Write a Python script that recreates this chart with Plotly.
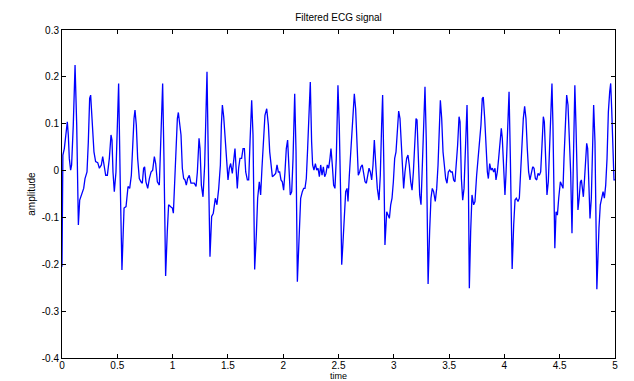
import plotly.graph_objects as go

# Time (s) and amplitude values
time = [
    0.000, 0.008, 0.021, 0.036, 0.048, 0.057, 0.066, 0.078, 0.087, 0.102, 0.118, 0.133, 0.148, 0.160, 0.178, 0.196,
    0.208, 0.226, 0.238, 0.250, 0.259, 0.274, 0.289, 0.304, 0.323, 0.338, 0.356, 0.368, 0.380, 0.395, 0.410, 0.428,
    0.443, 0.452, 0.461, 0.473, 0.488, 0.500, 0.512, 0.527, 0.542, 0.561, 0.579, 0.597, 0.612, 0.627, 0.639, 0.651,
    0.660, 0.672, 0.684, 0.699, 0.714, 0.726, 0.738, 0.747, 0.759, 0.775, 0.790, 0.805, 0.820, 0.835, 0.847, 0.862,
    0.880, 0.895, 0.910, 0.922, 0.937, 0.952, 0.964, 0.983, 0.998, 1.007, 1.019, 1.031, 1.043, 1.052, 1.064, 1.076,
    1.088, 1.100, 1.112, 1.124, 1.136, 1.151, 1.166, 1.181, 1.196, 1.212, 1.224, 1.239, 1.248, 1.260, 1.275, 1.290,
    1.299, 1.311, 1.323, 1.338, 1.353, 1.368, 1.386, 1.401, 1.417, 1.432, 1.441, 1.450, 1.462, 1.474, 1.486, 1.501,
    1.513, 1.525, 1.540, 1.552, 1.564, 1.576, 1.585, 1.597, 1.609, 1.624, 1.637, 1.649, 1.661, 1.676, 1.688, 1.700,
    1.715, 1.727, 1.742, 1.757, 1.769, 1.784, 1.796, 1.808, 1.820, 1.835, 1.851, 1.866, 1.878, 1.890, 1.902, 1.917,
    1.932, 1.944, 1.956, 1.968, 1.980, 1.992, 2.004, 2.016, 2.028, 2.040, 2.052, 2.064, 2.077, 2.089, 2.104, 2.116,
    2.128, 2.146, 2.158, 2.173, 2.185, 2.197, 2.209, 2.221, 2.233, 2.245, 2.257, 2.266, 2.278, 2.291, 2.303, 2.315,
    2.327, 2.339, 2.351, 2.363, 2.375, 2.387, 2.399, 2.411, 2.423, 2.432, 2.444, 2.456, 2.468, 2.480, 2.495, 2.507,
    2.520, 2.529, 2.541, 2.553, 2.565, 2.577, 2.586, 2.598, 2.610, 2.622, 2.634, 2.643, 2.655, 2.667, 2.679, 2.691,
    2.703, 2.715, 2.728, 2.740, 2.752, 2.764, 2.776, 2.788, 2.800, 2.812, 2.824, 2.839, 2.851, 2.866, 2.878, 2.890,
    2.899, 2.911, 2.920, 2.936, 2.948, 2.960, 2.972, 2.984, 2.996, 3.008, 3.020, 3.032, 3.044, 3.056, 3.068, 3.080,
    3.089, 3.101, 3.116, 3.128, 3.140, 3.153, 3.165, 3.177, 3.189, 3.201, 3.210, 3.222, 3.234, 3.246, 3.258, 3.273,
    3.282, 3.294, 3.303, 3.310, 3.324, 3.336, 3.348, 3.360, 3.375, 3.388, 3.400, 3.409, 3.421, 3.433, 3.445, 3.457,
    3.469, 3.481, 3.493, 3.505, 3.517, 3.529, 3.541, 3.553, 3.565, 3.577, 3.590, 3.599, 3.611, 3.623, 3.635, 3.650,
    3.662, 3.674, 3.683, 3.695, 3.707, 3.722, 3.734, 3.749, 3.764, 3.776, 3.788, 3.800, 3.809, 3.822, 3.834, 3.846,
    3.855, 3.867, 3.879, 3.891, 3.903, 3.915, 3.924, 3.936, 3.948, 3.960, 3.972, 3.981, 3.993, 4.005, 4.014, 4.027,
    4.042, 4.054, 4.063, 4.070, 4.084, 4.096, 4.108, 4.123, 4.135, 4.147, 4.159, 4.171, 4.183, 4.195, 4.207, 4.219,
    4.231, 4.244, 4.256, 4.268, 4.280, 4.292, 4.304, 4.316, 4.328, 4.340, 4.352, 4.361, 4.373, 4.385, 4.397, 4.409,
    4.421, 4.430, 4.439, 4.448, 4.456, 4.467, 4.479, 4.491, 4.506, 4.518, 4.530, 4.539, 4.551, 4.563, 4.575, 4.587,
    4.599, 4.611, 4.623, 4.637, 4.647, 4.656, 4.665, 4.676, 4.687, 4.696, 4.705, 4.714, 4.723, 4.735, 4.744, 4.753,
    4.762, 4.774, 4.786, 4.798, 4.807, 4.819, 4.828, 4.836, 4.855, 4.867, 4.880, 4.892, 4.904, 4.916, 4.928, 4.940,
    4.952, 4.961, 4.970, 4.982, 4.991, 5.000,
]
amplitude = [
    -0.205, 0.033, 0.047, 0.076, 0.104, 0.076, 0.026, 0.001, 0.012, 0.097, 0.225, 0.097, -0.116, -0.063, -0.052, -0.038,
    -0.017, -0.003, 0.061, 0.154, 0.161, 0.104, 0.040, 0.019, 0.017, 0.005, 0.012, 0.030, 0.012, -0.010, -0.010, 0.026,
    0.076, 0.065, -0.003, -0.045, -0.003, 0.076, 0.186, -0.031, -0.212, -0.080, -0.077, -0.034, -0.038, -0.010, 0.061, 0.111,
    0.129, 0.097, 0.026, -0.017, -0.024, -0.027, 0.005, 0.008, -0.024, -0.038, -0.017, -0.003, 0.001, 0.030, 0.015, -0.024,
    -0.031, 0.061, 0.186, 0.026, -0.225, -0.130, -0.073, -0.077, -0.080, -0.091, -0.031, 0.061, 0.111, 0.124, 0.104, 0.076,
    0.005, -0.017, -0.020, -0.031, -0.017, -0.010, -0.027, -0.027, -0.027, -0.034, -0.003, 0.069, 0.047, -0.031, -0.056, 0.012,
    0.125, 0.211, 0.026, -0.184, -0.098, -0.091, -0.059, -0.073, -0.038, 0.012, 0.097, 0.140, 0.115, 0.076, 0.026, -0.020,
    0.005, 0.015, -0.006, 0.026, 0.047, -0.003, -0.038, 0.005, 0.026, 0.026, 0.047, 0.047, -0.003, -0.020, -0.020, 0.061,
    0.150, 0.076, -0.211, -0.137, -0.059, -0.024, -0.052, 0.005, 0.061, 0.118, 0.132, 0.097, 0.040, 0.005, -0.013, -0.010,
    -0.006, 0.012, -0.003, -0.003, -0.020, -0.024, -0.042, -0.003, 0.047, 0.065, 0.005, -0.052, -0.045, 0.026, 0.164, 0.040,
    -0.237, -0.116, -0.059, -0.045, -0.038, -0.038, -0.017, 0.047, 0.125, 0.189, 0.061, 0.012, 0.001, 0.015, 0.001, 0.005,
    -0.013, 0.012, -0.010, 0.008, -0.013, -0.006, 0.012, 0.005, 0.026, 0.047, 0.012, -0.031, -0.038, 0.026, 0.182, 0.097,
    -0.059, -0.201, -0.152, -0.102, -0.045, -0.038, -0.066, -0.010, 0.040, 0.097, 0.154, 0.164, 0.132, 0.047, -0.010, -0.003,
    0.008, 0.012, -0.010, -0.024, -0.027, -0.010, 0.005, -0.003, -0.020, 0.012, 0.065, 0.005, -0.038, -0.063, -0.010, 0.097,
    0.161, -0.003, -0.159, -0.088, -0.095, -0.102, -0.073, -0.059, -0.024, 0.026, 0.040, 0.097, 0.127, 0.111, 0.047, -0.017,
    -0.038, -0.003, 0.026, 0.033, 0.012, -0.024, -0.042, -0.003, 0.061, 0.111, 0.108, 0.026, -0.052, -0.073, 0.012, 0.154,
    0.179, 0.061, -0.116, -0.242, -0.130, -0.059, -0.038, -0.045, -0.066, -0.038, 0.012, 0.097, 0.150, 0.111, 0.040, 0.012,
    -0.017, -0.027, -0.003, 0.001, -0.003, -0.003, -0.020, -0.024, 0.012, 0.054, 0.115, 0.104, -0.017, -0.063, -0.038, 0.069,
    0.140, -0.010, -0.251, -0.130, -0.052, -0.073, -0.066, -0.010, 0.026, 0.061, 0.097, 0.154, 0.157, 0.111, 0.040, -0.003,
    -0.017, 0.015, 0.001, 0.005, -0.003, 0.005, -0.020, -0.003, 0.026, 0.061, 0.090, 0.069, -0.003, -0.052, -0.010, 0.097,
    0.168, 0.026, -0.130, -0.210, -0.116, -0.063, -0.059, -0.066, -0.059, -0.003, 0.061, 0.111, 0.137, 0.111, 0.047, -0.003,
    -0.020, -0.003, 0.008, 0.005, -0.017, -0.020, -0.006, -0.010, -0.003, 0.054, 0.115, 0.104, 0.012, -0.052, -0.024, 0.061,
    0.168, 0.186, 0.097, -0.116, -0.166, -0.088, -0.095, -0.059, -0.024, -0.031, -0.038, 0.026, 0.111, 0.161, 0.140, 0.076,
    -0.003, -0.134, 0.040, 0.182, 0.097, -0.045, -0.084, -0.059, -0.024, -0.020, -0.045, -0.056, -0.024, 0.026, 0.058, 0.047,
    -0.031, -0.102, -0.059, 0.061, 0.140, 0.061, -0.116, -0.253, -0.123, -0.073, -0.059, -0.045, -0.059, -0.031, 0.026, 0.125,
    0.168, 0.186, 0.132, 0.005, -0.020, -0.020,
]

x_ticks = [0, 0.5, 1, 1.5, 2, 2.5, 3, 3.5, 4, 4.5, 5]
x_tick_labels = ["0", "0.5", "1", "1.5", "2", "2.5", "3", "3.5", "4", "4.5", "5"]
y_ticks = [-0.4, -0.3, -0.2, -0.1, 0, 0.1, 0.2, 0.3]
y_tick_labels = ["-0.4", "-0.3", "-0.2", "-0.1", "0", "0.1", "0.2", "0.3"]

font_family = "Liberation Sans, Arial, sans-serif"

fig = go.Figure()
fig.add_trace(go.Scatter(
    x=time, y=amplitude, mode="lines",
    line=dict(color="#0000FF", width=1.3),
    showlegend=False, hoverinfo="skip",
))

axis_common = dict(
    showline=True, linecolor="black", linewidth=1, mirror="ticks",
    ticks="inside", ticklen=4, tickcolor="black", tickwidth=1,
    showgrid=False, zeroline=False, automargin=False,
    tickfont=dict(family=font_family, size=10, color="black"),
)

fig.update_layout(
    width=634, height=381,
    margin=dict(l=62, r=19, t=30, b=23),
    paper_bgcolor="white", plot_bgcolor="white",
    font=dict(family=font_family, size=10, color="black"),
    title=dict(text="Filtered ECG signal", x=0.5, xref="paper", xanchor="center",
               y=1 - 17 / 381, yref="container", yanchor="middle",
               font=dict(family=font_family, size=10, color="black")),
    xaxis=dict(range=[0, 5], tickvals=x_ticks, ticktext=x_tick_labels,
               ticklabelstandoff=-2, **axis_common),
    yaxis=dict(range=[-0.4, 0.3], tickvals=y_ticks, ticktext=y_tick_labels,
               title=dict(text="amplitude", standoff=4, font=dict(size=10)),
               **axis_common),
    annotations=[dict(text="time", xref="paper", yref="paper", x=0.5, y=-18 / 328,
                      xanchor="center", yanchor="middle", showarrow=False,
                      font=dict(family=font_family, size=9, color="black"))],
)

fig.write_html("out.html")
